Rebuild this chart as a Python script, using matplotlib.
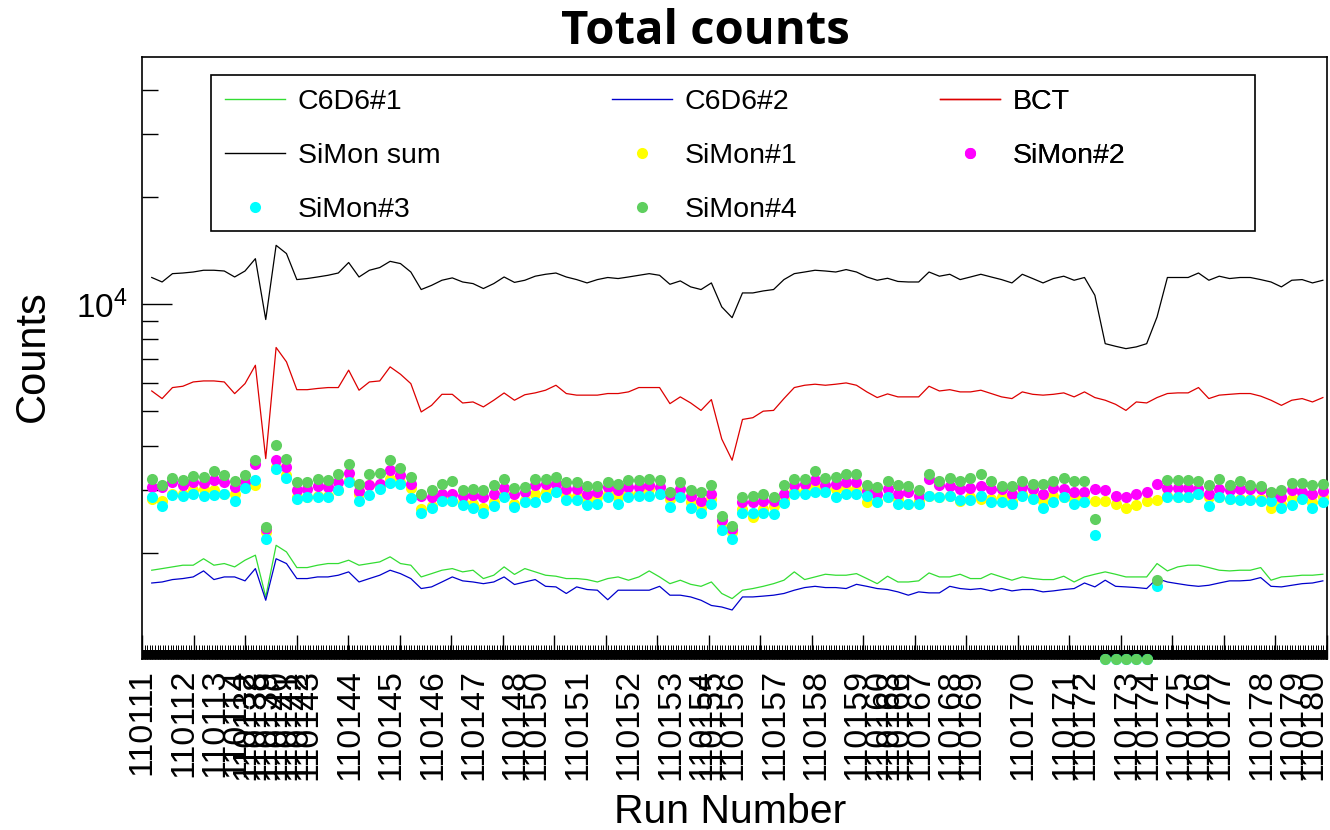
import numpy as np
import matplotlib
matplotlib.use("Agg")
import matplotlib.pyplot as plt
from matplotlib.lines import Line2D
from matplotlib.patches import Rectangle
from matplotlib.ticker import FixedLocator, FixedFormatter, NullFormatter

plt.rcParams["font.family"] = ["Liberation Sans", "DejaVu Sans"]
plt.rcParams["mathtext.fontset"] = "custom"
plt.rcParams["mathtext.rm"] = "Liberation Sans"

# counts per file segment, in acquisition order
c6d6_1 = [1790, 1809, 1829, 1849, 1849, 1928, 1849, 1869, 1829, 1910,
          1973, 1506, 2103, 2015, 1821, 1821, 1849, 1869, 1869, 1910,
          1849, 1869, 1889, 1952, 1869, 1849, 1714, 1751, 1790, 1809,
          1771, 1790, 1696, 1733, 1829, 1742, 1809, 1771, 1733, 1722,
          1696, 1696, 1685, 1659, 1696, 1714, 1678, 1714, 1782, 1714,
          1641, 1678, 1634, 1613, 1659, 1540, 1490, 1573, 1590, 1613,
          1641, 1678, 1771, 1685, 1714, 1744, 1733, 1733, 1751, 1696,
          1641, 1722, 1659, 1659, 1671, 1759, 1714, 1714, 1744, 1696,
          1696, 1751, 1714, 1678, 1714, 1696, 1685, 1685, 1722, 1659,
          1714, 1744, 1771, 1744, 1714, 1714, 1714, 1869, 1782, 1829,
          1849, 1849, 1821, 1790, 1782, 1790, 1790, 1821, 1678, 1714,
          1722, 1733, 1733, 1744]
c6d6_2 = [1648, 1659, 1685, 1696, 1714, 1782, 1685, 1714, 1714, 1671,
          1809, 1474, 1928, 1869, 1696, 1696, 1714, 1714, 1733, 1771,
          1659, 1696, 1733, 1790, 1751, 1696, 1590, 1607, 1659, 1714,
          1671, 1659, 1641, 1659, 1714, 1632, 1659, 1685, 1613, 1607,
          1540, 1607, 1580, 1573, 1479, 1573, 1573, 1573, 1573, 1613,
          1523, 1523, 1506, 1474, 1425, 1411, 1384, 1506, 1506, 1514,
          1523, 1540, 1573, 1600, 1613, 1600, 1600, 1590, 1634, 1613,
          1590, 1580, 1556, 1523, 1556, 1546, 1546, 1613, 1590, 1580,
          1590, 1566, 1590, 1566, 1580, 1580, 1556, 1566, 1580, 1590,
          1648, 1607, 1678, 1613, 1607, 1600, 1590, 1696, 1659, 1641,
          1624, 1613, 1624, 1648, 1671, 1671, 1678, 1707, 1613, 1607,
          1624, 1641, 1648, 1671]
bct = [5707, 5433, 5834, 5884, 6050, 6090, 6090, 6050, 5610, 5985,
       6740, 3685, 7560, 6890, 5755, 5755, 5800, 5834, 5834, 6530,
       5735, 6050, 6090, 6670, 6360, 5985, 4983, 5200, 5585, 5585,
       5280, 5316, 5148, 5375, 5634, 5375, 5570, 5637, 5735, 5922,
       5613, 5555, 5555, 5555, 5613, 5613, 5673, 5835, 5835, 5835,
       5258, 5493, 5282, 5033, 5398, 4183, 3647, 4747, 4801, 5008,
       5033, 5433, 5835, 5922, 5962, 5922, 5962, 6012, 5922, 5673,
       5469, 5600, 5493, 5493, 5493, 5884, 5707, 5755, 5673, 5673,
       5735, 5613, 5493, 5433, 5673, 5585, 5555, 5585, 5637, 5493,
       5673, 5469, 5375, 5235, 5033, 5316, 5282, 5469, 5613, 5637,
       5637, 5835, 5433, 5555, 5585, 5613, 5613, 5520, 5375, 5200,
       5375, 5433, 5316, 5469]
simon_sum = [11890, 11550, 12190, 12240, 12320, 12460, 12460, 12400, 11930, 12400,
             13430, 9060, 14640, 13880, 11730, 11810, 11930, 12060, 12240, 13100,
             11930, 12460, 12680, 13200, 13010, 12320, 11000, 11300, 11680, 11860,
             11550, 11430, 11070, 11430, 11930, 11520, 11680, 11990, 12140, 12240,
             11930, 11730, 11480, 11730, 11890, 11810, 11930, 12060, 12190, 12060,
             11380, 11630, 11190, 11000, 11480, 9830, 9170, 10760, 10760, 10900,
             11000, 11730, 12190, 12320, 12460, 12400, 12320, 12515, 12320, 11930,
             11680, 11830, 11590, 11550, 11550, 12320, 11990, 12140, 11730, 11930,
             12140, 11930, 11730, 11480, 12140, 11810, 11480, 11810, 11990, 11680,
             11890, 10600, 7750, 7620, 7505, 7590, 7750, 9210, 11890, 11890,
             11890, 12240, 11680, 11990, 11810, 11890, 11890, 11730, 11550, 11190,
             11680, 11730, 11480, 11680]
simon_1 = [2838, 2807, 2933, 2933, 2998, 3032, 3011, 2933, 2933, 3064,
           3098, 2291, 3491, 3307, 2869, 2869, 2901, 2901, 2998, 3202,
           2933, 3098, 3064, 3237, 3167, 3050, 2654, 2714, 2869, 2807,
           2777, 2745, 2684, 2777, 2933, 2745, 2820, 2933, 2966, 2998,
           2901, 2901, 2807, 2869, 2933, 2869, 2933, 2946, 3032, 2946,
           2838, 2901, 2777, 2684, 2838, 2390, 2291, 2654, 2524, 2654,
           2714, 2838, 2985, 2985, 3064, 2998, 3032, 3032, 3032, 2777,
           2807, 2869, 2838, 2745, 2807, 2901, 2869, 2901, 2807, 2869,
           2838, 2838, 2869, 2807, 2933, 2869, 2807, 2901, 2869, 2838,
           2869, 2807, 2807, 2745, 2672, 2733, 2807, 2820, 2901, 2869,
           2869, 2933, 2869, 2869, 2838, 2838, 2838, 2838, 2672, 2745,
           2838, 2869, 2777, 2869]
simon_2 = [3064, 3064, 3167, 3098, 3167, 3147, 3202, 3167, 3064, 3167,
           3567, 2340, 3660, 3491, 2998, 3032, 3078, 3064, 3167, 3358,
           2985, 3098, 3133, 3417, 3307, 3133, 2901, 2869, 2933, 2933,
           2901, 2920, 2882, 2933, 3050, 2933, 2966, 3098, 3133, 3119,
           3032, 3032, 2933, 2966, 3064, 2998, 3064, 3064, 3098, 3064,
           2920, 3032, 2901, 2807, 2933, 2470, 2340, 2777, 2777, 2807,
           2807, 2933, 3098, 3119, 3216, 3098, 3133, 3167, 3167, 2985,
           2933, 3032, 2933, 2966, 2901, 3237, 3098, 3078, 3032, 3050,
           3078, 3032, 3032, 2933, 3064, 3032, 2933, 3050, 3032, 2966,
           2966, 3032, 2998, 2901, 2882, 2933, 2966, 3119, 3050, 3050,
           3050, 3032, 2933, 3032, 2998, 3032, 3032, 3032, 2933, 2869,
           2998, 2966, 2933, 2985]
simon_3 = [2882, 2714, 2920, 2901, 2933, 2901, 2914, 2933, 2795, 3050,
           3216, 2194, 3454, 3257, 2838, 2869, 2882, 2869, 2998, 3167,
           2795, 2920, 3032, 3147, 3133, 2857, 2597, 2684, 2795, 2795,
           2733, 2672, 2597, 2714, 2869, 2697, 2777, 2777, 2869, 2966,
           2820, 2820, 2733, 2745, 2869, 2745, 2869, 2901, 2901, 2933,
           2697, 2869, 2684, 2597, 2745, 2316, 2194, 2597, 2597, 2597,
           2583, 2763, 2933, 2933, 2966, 2966, 2882, 2933, 2933, 2901,
           2777, 2869, 2745, 2745, 2745, 2901, 2869, 2901, 2820, 2820,
           2901, 2777, 2777, 2745, 2901, 2838, 2672, 2777, 2869, 2745,
           2777, 2242, 0, 0, 0, 0, 0, 1613, 2882, 2882,
           2882, 2933, 2714, 2869, 2838, 2820, 2820, 2807, 2807, 2672,
           2733, 2838, 2672, 2777]
simon_4 = [3237, 3098, 3257, 3216, 3292, 3271, 3402, 3307, 3188, 3307,
           3660, 2372, 4030, 3683, 3167, 3167, 3237, 3216, 3343, 3567,
           3119, 3343, 3365, 3646, 3476, 3271, 2933, 3011, 3119, 3188,
           3011, 3032, 2998, 3098, 3237, 3050, 3064, 3237, 3237, 3271,
           3167, 3167, 3078, 3078, 3167, 3119, 3202, 3216, 3237, 3202,
           2966, 3167, 2998, 2966, 3098, 2534, 2390, 2869, 2901, 2933,
           2869, 3098, 3237, 3237, 3402, 3257, 3271, 3343, 3343, 3098,
           3064, 3188, 3098, 3078, 3011, 3329, 3188, 3257, 3188, 3257,
           3329, 3188, 3078, 3078, 3188, 3133, 3133, 3188, 3257, 3188,
           3188, 2497, 0, 0, 0, 0, 0, 1685, 3216, 3202,
           3202, 3188, 3098, 3237, 3098, 3188, 3098, 3078, 2966, 2998,
           3147, 3147, 3098, 3133]

# run number label and the first file segment belonging to that run
run_labels = ["110111", "110112", "110113", "110114", "110132", "110138", "110139",
              "110140", "110141", "110142", "110143", "110144", "110145", "110146",
              "110147", "110148", "110150", "110151", "110152", "110153", "110154",
              "110155", "110156", "110157", "110158", "110159", "110160", "110163",
              "110166", "110167", "110168", "110169", "110170", "110171", "110172",
              "110173", "110174", "110175", "110176", "110177", "110178", "110179",
              "110180"]
run_first_bin = [0, 4, 7, 9, 10, 11, 12, 13, 14, 15, 16, 20, 24, 28, 32, 36, 38, 42,
                 47, 51, 54, 55, 57, 61, 65, 69, 71, 72, 73, 75, 78, 80, 85, 89, 91,
                 95, 97, 100, 102, 104, 108, 111, 113]

YMIN, YMAX = 1008, 49500
XMIN, XMAX = -0.94, 113.4
LABEL_SHIFT = -0.92

DPI = 100
fig = plt.figure(figsize=(13.3, 8.3), dpi=DPI)
ax = fig.add_axes([142 / 1330, 171 / 830, 1185 / 1330, 602 / 830])

idx = np.arange(len(simon_sum))

line_series = [
    (c6d6_1, "#33dd33", "C6D6#1"),
    (c6d6_2, "#0000cc", "C6D6#2"),
    (bct, "#dd0000", "BCT"),
    (simon_sum, "black", "SiMon sum"),
]
dot_series = [
    (simon_1, "#ffff00", "SiMon#1"),
    (simon_2, "#ff00ff", "SiMon#2"),
    (simon_3, "#00ffff", "SiMon#3"),
    (simon_4, "#5fcf5f", "SiMon#4"),
]
MS = 8.0

handles = {}
for vals, col, name in line_series:
    (h,) = ax.plot(idx, vals, color=col, lw=0.9, zorder=3)
    handles[name] = h
for vals, col, name in dot_series:
    v = np.asarray(vals, dtype=float)
    # empty readings sit on the lower frame edge, as the ROOT canvas does
    v = np.where(v > 0, v, YMIN)
    (h,) = ax.plot(idx, v, ls="none", marker="o", ms=MS, mew=0,
                   color=col, zorder=5, clip_on=False)
    handles[name] = h

ax.set_yscale("log")
ax.set_ylim(YMIN, YMAX)
ax.set_xlim(XMIN, XMAX)

# y axis: only 10^4 is labelled
ax.yaxis.set_major_locator(FixedLocator([1e4]))
ax.yaxis.set_major_formatter(FixedFormatter([r"$\mathregular{10^{4}}$"]))
ax.yaxis.set_minor_locator(FixedLocator([2000, 3000, 4000, 5000, 6000, 7000, 8000,
                                         9000, 20000, 30000, 40000]))
ax.yaxis.set_minor_formatter(NullFormatter())
ax.tick_params(axis="y", which="major", direction="in", length=21.6, width=1.0,
               labelsize=24, pad=10)
ax.tick_params(axis="y", which="minor", direction="in", length=11.5, width=1.0)

# x axis: 23 primary divisions with a dense comb of secondary ticks
span = XMAX - XMIN
ax.xaxis.set_major_locator(FixedLocator(XMIN + np.arange(24) * span / 23))
ax.xaxis.set_minor_locator(FixedLocator(np.arange(XMIN, XMAX, 0.25)))
ax.xaxis.set_major_formatter(NullFormatter())
ax.tick_params(axis="x", which="major", direction="in", length=17.3, width=1.0)
ax.tick_params(axis="x", which="minor", direction="in", length=10, width=0.7)
ax.add_patch(Rectangle((0, 0), 1, 9 / 602, transform=ax.transAxes,
                       color="black", lw=0, zorder=4))

lab = ax.secondary_xaxis("bottom")
lab.set_xticks(np.asarray(run_first_bin) + LABEL_SHIFT, run_labels)
lab.tick_params(length=0, rotation=90, labelsize=24.5, pad=7)
lab.spines["bottom"].set_visible(False)

for s in ax.spines.values():
    s.set_linewidth(1.2)

# legend: three columns inside one frame
ax.add_patch(Rectangle(((211 - 142) / 1185, (659 - 231) / 602),
                       (1255 - 211) / 1185, 156 / 602, transform=ax.transAxes,
                       fill=True, facecolor="white", edgecolor="black", lw=1.2,
                       zorder=6))
columns = [
    (["C6D6#1", "SiMon sum", "SiMon#3"], 225),
    (["C6D6#2", "SiMon#1", "SiMon#4"], 612),
    (["BCT", "SiMon#2"], 940),
]
for names, x0 in columns:
    hs = []
    for n in names:
        src = handles[n]
        if src.get_marker() == "o":
            hs.append(Line2D([], [], ls="none", marker="o", ms=MS, mew=0,
                             color=src.get_color()))
        else:
            hs.append(Line2D([], [], color=src.get_color(), lw=1.0))
    leg = ax.legend(hs, names, loc="upper left",
                    bbox_to_anchor=((x0 - 142) / 1185, (659 - 89) / 602),
                    frameon=False, borderpad=0, fontsize=20.5, handlelength=2.1,
                    handletextpad=0.45, labelspacing=0.98, numpoints=1,
                    borderaxespad=0)
    leg.set_zorder(7)
    ax.add_artist(leg)

fig.text(705 / 1330, 1 - 31 / 830, "Total counts", family="Open Sans",
         weight="bold", fontsize=34, ha="center", va="center")
fig.text(33 / 1330, 1 - 356 / 830, "Counts", fontsize=30, rotation=90,
         ha="center", va="center")
fig.text(730 / 1330, 1 - 812 / 830, "Run Number", fontsize=29.5,
         ha="center", va="center")

fig.savefig("out.png", dpi=DPI)
